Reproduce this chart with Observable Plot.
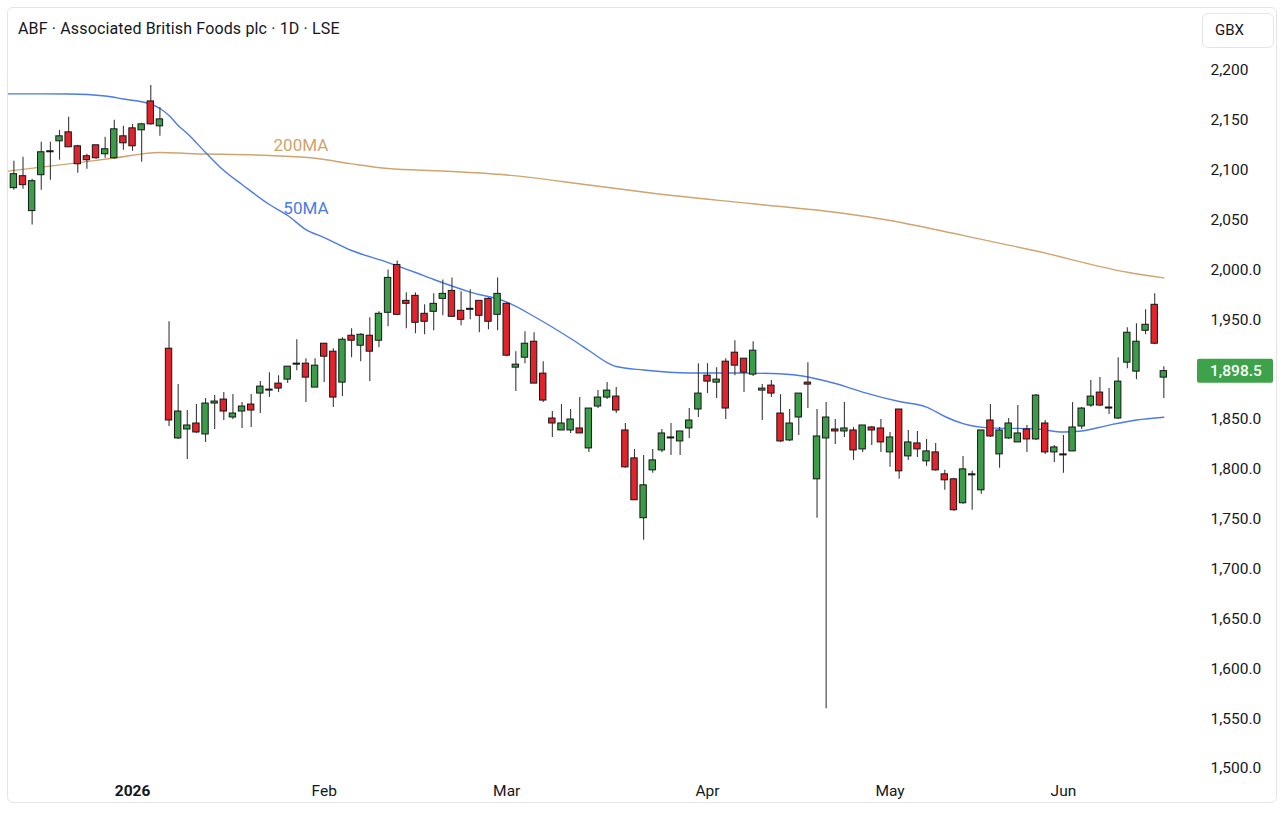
<!DOCTYPE html>
<html>
<head>
<meta charset="utf-8">
<script src="https://cdn.jsdelivr.net/npm/d3@7"></script>
<script src="https://cdn.jsdelivr.net/npm/@observablehq/plot@0.6"></script>
<style>
  html, body { margin: 0; padding: 0; background: #ffffff; }
  #wrap { position: relative; width: 1285px; height: 817px; overflow: hidden; font-family: Roboto, "Noto Sans", sans-serif; color: #131722; }
  #card { position: absolute; left: 7px; top: 7px; width: 1270px; height: 796px; border: 1px solid #e3e5eb; border-radius: 6px; box-sizing: border-box; }
  #title { position: absolute; left: 18px; top: 19px; font-size: 16px; letter-spacing: 0.15px; white-space: nowrap; }
  #unit { position: absolute; left: 1202px; top: 13px; width: 72px; height: 35px; box-sizing: border-box; border: 1px solid #e3e5eb; border-radius: 6px; font-size: 15px; line-height: 33px; padding-left: 12px; }
  #chart { position: absolute; left: 0; top: 0; }
</style>
</head>
<body>
<div id="wrap">
  <div id="card"></div>
  <div id="title">ABF · Associated British Foods plc · 1D · LSE</div>
  <div id="unit">GBX</div>
  <div id="chart"></div>
</div>
<script>
// ---- data ----
const dates = [
  "2025-12-10","2025-12-11","2025-12-12","2025-12-15","2025-12-16","2025-12-17","2025-12-18","2025-12-19",
  "2025-12-22","2025-12-23","2025-12-24","2025-12-29","2025-12-30","2025-12-31",
  "2026-01-02","2026-01-05","2026-01-06","2026-01-07","2026-01-08","2026-01-09","2026-01-12","2026-01-13",
  "2026-01-14","2026-01-15","2026-01-16","2026-01-19","2026-01-20","2026-01-21","2026-01-22","2026-01-23",
  "2026-01-26","2026-01-27","2026-01-28","2026-01-29","2026-01-30",
  "2026-02-02","2026-02-03","2026-02-04","2026-02-05","2026-02-06","2026-02-09","2026-02-10","2026-02-11",
  "2026-02-12","2026-02-13","2026-02-16","2026-02-17","2026-02-18","2026-02-19","2026-02-20","2026-02-23",
  "2026-02-24","2026-02-25","2026-02-26","2026-02-27",
  "2026-03-02","2026-03-03","2026-03-04","2026-03-05","2026-03-06","2026-03-09","2026-03-10","2026-03-11",
  "2026-03-12","2026-03-13","2026-03-16","2026-03-17","2026-03-18","2026-03-19","2026-03-20","2026-03-23",
  "2026-03-24","2026-03-25","2026-03-26","2026-03-27","2026-03-30","2026-03-31",
  "2026-04-01","2026-04-02","2026-04-07","2026-04-08","2026-04-09","2026-04-10","2026-04-13","2026-04-14",
  "2026-04-15","2026-04-16","2026-04-17","2026-04-20","2026-04-21","2026-04-22","2026-04-23","2026-04-24",
  "2026-04-27","2026-04-28","2026-04-29","2026-04-30",
  "2026-05-01","2026-05-05","2026-05-06","2026-05-07","2026-05-08","2026-05-11","2026-05-12","2026-05-13",
  "2026-05-14","2026-05-15","2026-05-18","2026-05-19","2026-05-20","2026-05-21","2026-05-22","2026-05-26",
  "2026-05-27","2026-05-28","2026-05-29",
  "2026-06-01","2026-06-02","2026-06-03","2026-06-04","2026-06-05","2026-06-08","2026-06-09","2026-06-10",
  "2026-06-11","2026-06-12","2026-06-15","2026-06-16"
];
const opens = [
  2130,2082,2094,2059,2095,2118,2129,2138,2124,2114,2125,2116,2112,2134,
  2142,2140,2169,2144,1921,1831,1840,1846,1835,1866,1870,1852,1858,1865,1876,1879,1886,1890,1905,1906,1882,
  1926,1918,1887,1934,1924,1934,1929,1957,2005,1969,1974,1956,1958,1971,1979,1959,1960,1969,1971,1955,
  1966,1902,1912,1928,1896,1851,1839,1839,1841,1821,1863,1872,1873,1839,1811,1751,1799,1819,1832,1828,1841,1860,
  1894,1887,1908,1917,1911,1895,1879,1884,1856,1829,1852,1887,1790,1831,1840,1838,1839,1820,1842,1841,
  1817,1860,1813,1826,1808,1817,1795,1790,1766,1795,1779,1849,1815,1831,1827,1840,1830,1846,1817,
  1815,1818,1843,1864,1877,1862,1851,1907,1898,1939,1965,1892
];
const highs = [
  2131,2109,2113,2091,2128,2128,2140,2153,2125,2116,2125,2133,2150,2144,
  2146,2147,2185,2163,1948,1885,1859,1865,1871,1874,1877,1875,1867,1875,1888,1897,1894,1903,1930,1911,1911,
  1926,1921,1932,1941,1936,1952,1958,2000,2009,1977,1977,1965,1976,1990,1992,1978,1980,1969,1972,1992,
  1967,1918,1938,1937,1908,1858,1865,1860,1872,1861,1879,1887,1882,1846,1820,1814,1820,1840,1846,1838,1861,1906,
  1906,1902,1911,1929,1911,1928,1885,1889,1875,1860,1876,1907,1860,1867,1850,1867,1842,1844,1843,1850,
  1837,1860,1839,1838,1830,1826,1799,1791,1813,1798,1839,1865,1842,1851,1864,1844,1875,1849,1824,
  1834,1867,1862,1889,1892,1881,1912,1942,1946,1960,1976,1903
];
const lows = [
  2107,2080,2081,2045,2080,2090,2110,2123,2097,2101,2111,2112,2111,2120,
  2119,2108,2145,2134,1843,1830,1810,1836,1827,1840,1849,1850,1841,1842,1856,1872,1877,1886,1899,1867,1882,
  1887,1862,1873,1912,1908,1888,1922,1943,1954,1941,1936,1935,1939,1954,1953,1944,1950,1937,1940,1939,
  1913,1878,1906,1886,1867,1832,1839,1836,1836,1817,1861,1870,1856,1801,1769,1729,1796,1817,1814,1814,1831,1852,
  1876,1871,1850,1894,1877,1893,1849,1872,1827,1828,1834,1861,1751,1560,1825,1832,1809,1817,1824,1817,
  1802,1790,1809,1812,1803,1798,1779,1758,1765,1759,1775,1832,1801,1830,1827,1817,1829,1815,1807,
  1796,1818,1840,1862,1863,1855,1850,1901,1890,1935,1925,1871
];
const closes = [
  2108,2096,2085,2089,2118,2119,2134,2123,2106,2110,2112,2121,2141,2127,
  2124,2146,2146,2151,1849,1858,1844,1837,1866,1868,1858,1856,1863,1859,1883,1880,1881,1903,1906,1892,1904,
  1913,1872,1930,1929,1935,1918,1956,1992,1955,1966,1947,1948,1966,1976,1953,1950,1961,1954,1948,1976,
  1914,1905,1926,1886,1869,1846,1846,1850,1836,1861,1872,1879,1859,1802,1769,1784,1809,1836,1831,1838,1849,1876,
  1888,1890,1861,1904,1897,1919,1881,1876,1828,1846,1876,1885,1833,1852,1838,1841,1819,1844,1839,1827,
  1832,1798,1827,1820,1818,1799,1789,1759,1800,1794,1839,1833,1839,1846,1836,1830,1874,1817,1822,
  1814,1842,1861,1873,1864,1861,1888,1937,1928,1945,1926,1898.5
];

const ma50Dates = [
  "2025-12-10","2025-12-19","2025-12-29","2025-12-31","2026-01-06","2026-01-07","2026-01-08","2026-01-09",
  "2026-01-12","2026-01-14","2026-01-16","2026-01-20","2026-01-23","2026-01-27","2026-01-29","2026-02-02",
  "2026-02-05","2026-02-11","2026-02-16","2026-02-18","2026-02-24","2026-03-02","2026-03-05","2026-03-11",
  "2026-03-13","2026-03-17","2026-03-18","2026-03-23","2026-03-30","2026-04-08","2026-04-14","2026-04-17",
  "2026-04-21","2026-04-23","2026-04-28","2026-05-05","2026-05-08","2026-05-12","2026-05-14","2026-05-19",
  "2026-05-27","2026-06-01","2026-06-03","2026-06-08","2026-06-11","2026-06-16"
];
const ma50Values = [
  2176.6,2176.4,2174.4,2171.4,2166.4,2161.9,2154.9,2144.8,
  2136.8,2117.8,2099.7,2085.7,2065.6,2054.6,2040.5,2032.5,
  2019.5,2007.4,1997.4,1990.4,1977.8,1967.8,1953.3,1931.2,
  1919.2,1907.1,1903.1,1899.6,1896.6,1896.6,1896.1,1894.1,
  1890.6,1886.1,1877.5,1868.0,1862.5,1853.0,1845.9,1841.6,
  1840.6,1837.4,1838.4,1844.4,1849.5,1852.3
];
const ma200Dates = [
  "2025-12-10","2025-12-19","2025-12-30","2026-01-07","2026-01-12","2026-01-23","2026-01-30","2026-02-05",
  "2026-02-11","2026-02-19","2026-03-02","2026-03-13","2026-03-24","2026-04-10","2026-04-24","2026-05-01",
  "2026-05-14","2026-05-27","2026-06-10","2026-06-16"
];
const ma200Values = [
  2098.7,2106.4,2112.2,2117.8,2116.8,2114.7,2112.0,2106.4,
  2101.7,2099.2,2095.2,2085.2,2076.9,2066.3,2056.6,2049.6,
  2034.6,2019.0,1997.7,1992.0
];
const maNames = ["50MA", "200MA"];
const maLabelDates = ["2026-01-29", "2026-01-29"];

const yTicks = [2200,2150,2100,2050,2000,1950,1900,1850,1800,1750,1700,1650,1600,1550,1500];
const yTickLabels = ["2,200","2,150","2,100","2,050","2,000.0","1,950.0","","1,850.0","1,800.0","1,750.0","1,700.0","1,650.0","1,600.0","1,550.0","1,500.0"];
const xTickLabels = ["2026","Feb","Mar","Apr","May","Jun"];

// ---- build ----
const GREEN = "#3c9d48", RED = "#e1232b", BLUE = "#4a7be8", TAN = "#cfa46e";
const idx = new Map(dates.map((d, i) => [d, i]));
const candles = dates.map((d, i) => ({
  i, date: d, open: opens[i], high: highs[i], low: lows[i], close: closes[i],
  color: closes[i] >= opens[i] ? GREEN : RED
}));
const ma50 = ma50Dates.map((d, k) => ({i: idx.get(d), v: ma50Values[k]}));
const ma200 = ma200Dates.map((d, k) => ({i: idx.get(d), v: ma200Values[k]}));
const ma50ByDate = new Map(ma50Dates.map((d, k) => [d, ma50Values[k]]));
const ma200Interp = (i) => {
  for (let k = 1; k < ma200.length; k++) {
    if (ma200[k].i >= i) {
      const a = ma200[k - 1], b = ma200[k];
      return a.v + (b.v - a.v) * (i - a.i) / (b.i - a.i);
    }
  }
  return ma200[ma200.length - 1].v;
};
const labels = [
  {text: maNames[0], i: idx.get(maLabelDates[0]), v: ma50ByDate.get(maLabelDates[0]), color: BLUE, dy: -21, dx: 0},
  {text: maNames[1], i: idx.get(maLabelDates[1]), v: ma200Interp(idx.get(maLabelDates[1])), color: TAN, dy: -12, dx: -5}
];

const monthStarts = [];
for (let i = 1; i < dates.length; i++) {
  if (dates[i].slice(0, 7) !== dates[i - 1].slice(0, 7)) monthStarts.push(i);
}
const xLabelMap = new Map(monthStarts.map((m, k) => [m, xTickLabels[k]]));
const yLabelMap = new Map(yTicks.map((t, k) => [t, yTickLabels[k]]));
const last = candles[candles.length - 1];

const chart = Plot.plot({
  width: 1285,
  height: 817,
  marginLeft: 8,
  marginRight: 90,
  marginTop: 70,
  marginBottom: 49,
  x: {domain: [0.41, 130.47], axis: null, label: null},
  y: {domain: [1500, 2200], axis: null, label: null},
  color: {type: "identity"},
  style: {fontFamily: "Roboto, 'Noto Sans', sans-serif", fontSize: "15.5px", color: "#131722", background: "transparent", overflow: "visible"},
  marks: [
    Plot.line(ma200, {x: "i", y: "v", stroke: TAN, strokeWidth: 1.4, curve: "monotone-x", clip: true}),
    Plot.line(ma50, {x: "i", y: "v", stroke: BLUE, strokeWidth: 1.4, curve: "monotone-x", clip: true}),
    Plot.ruleX(candles, {x: "i", y1: "low", y2: "high", stroke: "#3a3a3a", strokeWidth: 1.1, clip: true}),
    Plot.rect(candles, {
      x1: d => d.i - 0.35, x2: d => d.i + 0.35, y1: "open", y2: "close",
      fill: "color", stroke: "#161616", strokeWidth: 1, clip: true
    }),
    Plot.text(labels, {x: "i", y: "v", text: "text", fill: "color", fontSize: 17}),
    Plot.axisY({anchor: "right", label: null, ticks: yTicks.filter(t => yLabelMap.get(t) !== ""), tickFormat: d => yLabelMap.get(d), tickSize: 0, tickPadding: 15, textAnchor: "start", fontSize: 15.5, fill: "#131722"}),
    Plot.axisX({label: null, ticks: monthStarts.slice(0, 1), tickFormat: d => xLabelMap.get(d), tickSize: 0, tickPadding: 16, fontSize: 15.5, fontWeight: 700, fill: "#131722"}),
    Plot.axisX({label: null, ticks: monthStarts.slice(1), tickFormat: d => xLabelMap.get(d), tickSize: 0, tickPadding: 16, fontSize: 15.5, fill: "#131722"})
  ]
});

// shift the MA labels by their offsets
d3.select(chart).selectAll("g[aria-label='text'] text").each(function(_, k) {
  const l = labels[k];
  const t = d3.select(this).attr("transform") || "";
  d3.select(this).attr("transform", t + ` translate(${l.dx},${l.dy})`);
});

// last price tag, placed with the chart's own y scale
const yScale = chart.scale("y");
const ty = yScale.apply(last.close);
const svg = d3.select(chart);
const tag = svg.append("g").attr("text-anchor", "start");
tag.append("rect").attr("x", 1197).attr("y", ty - 12).attr("width", 76).attr("height", 24).attr("rx", 2).attr("fill", "#3ea24b");
tag.append("text").attr("x", 1210).attr("y", ty).attr("dy", "0.35em").attr("fill", "#ffffff")
  .attr("text-anchor", "start").attr("font-size", 15.5).attr("font-weight", 500).text(d3.format(",.1f")(last.close));

document.getElementById("chart").appendChild(chart);
</script>
</body>
</html>
